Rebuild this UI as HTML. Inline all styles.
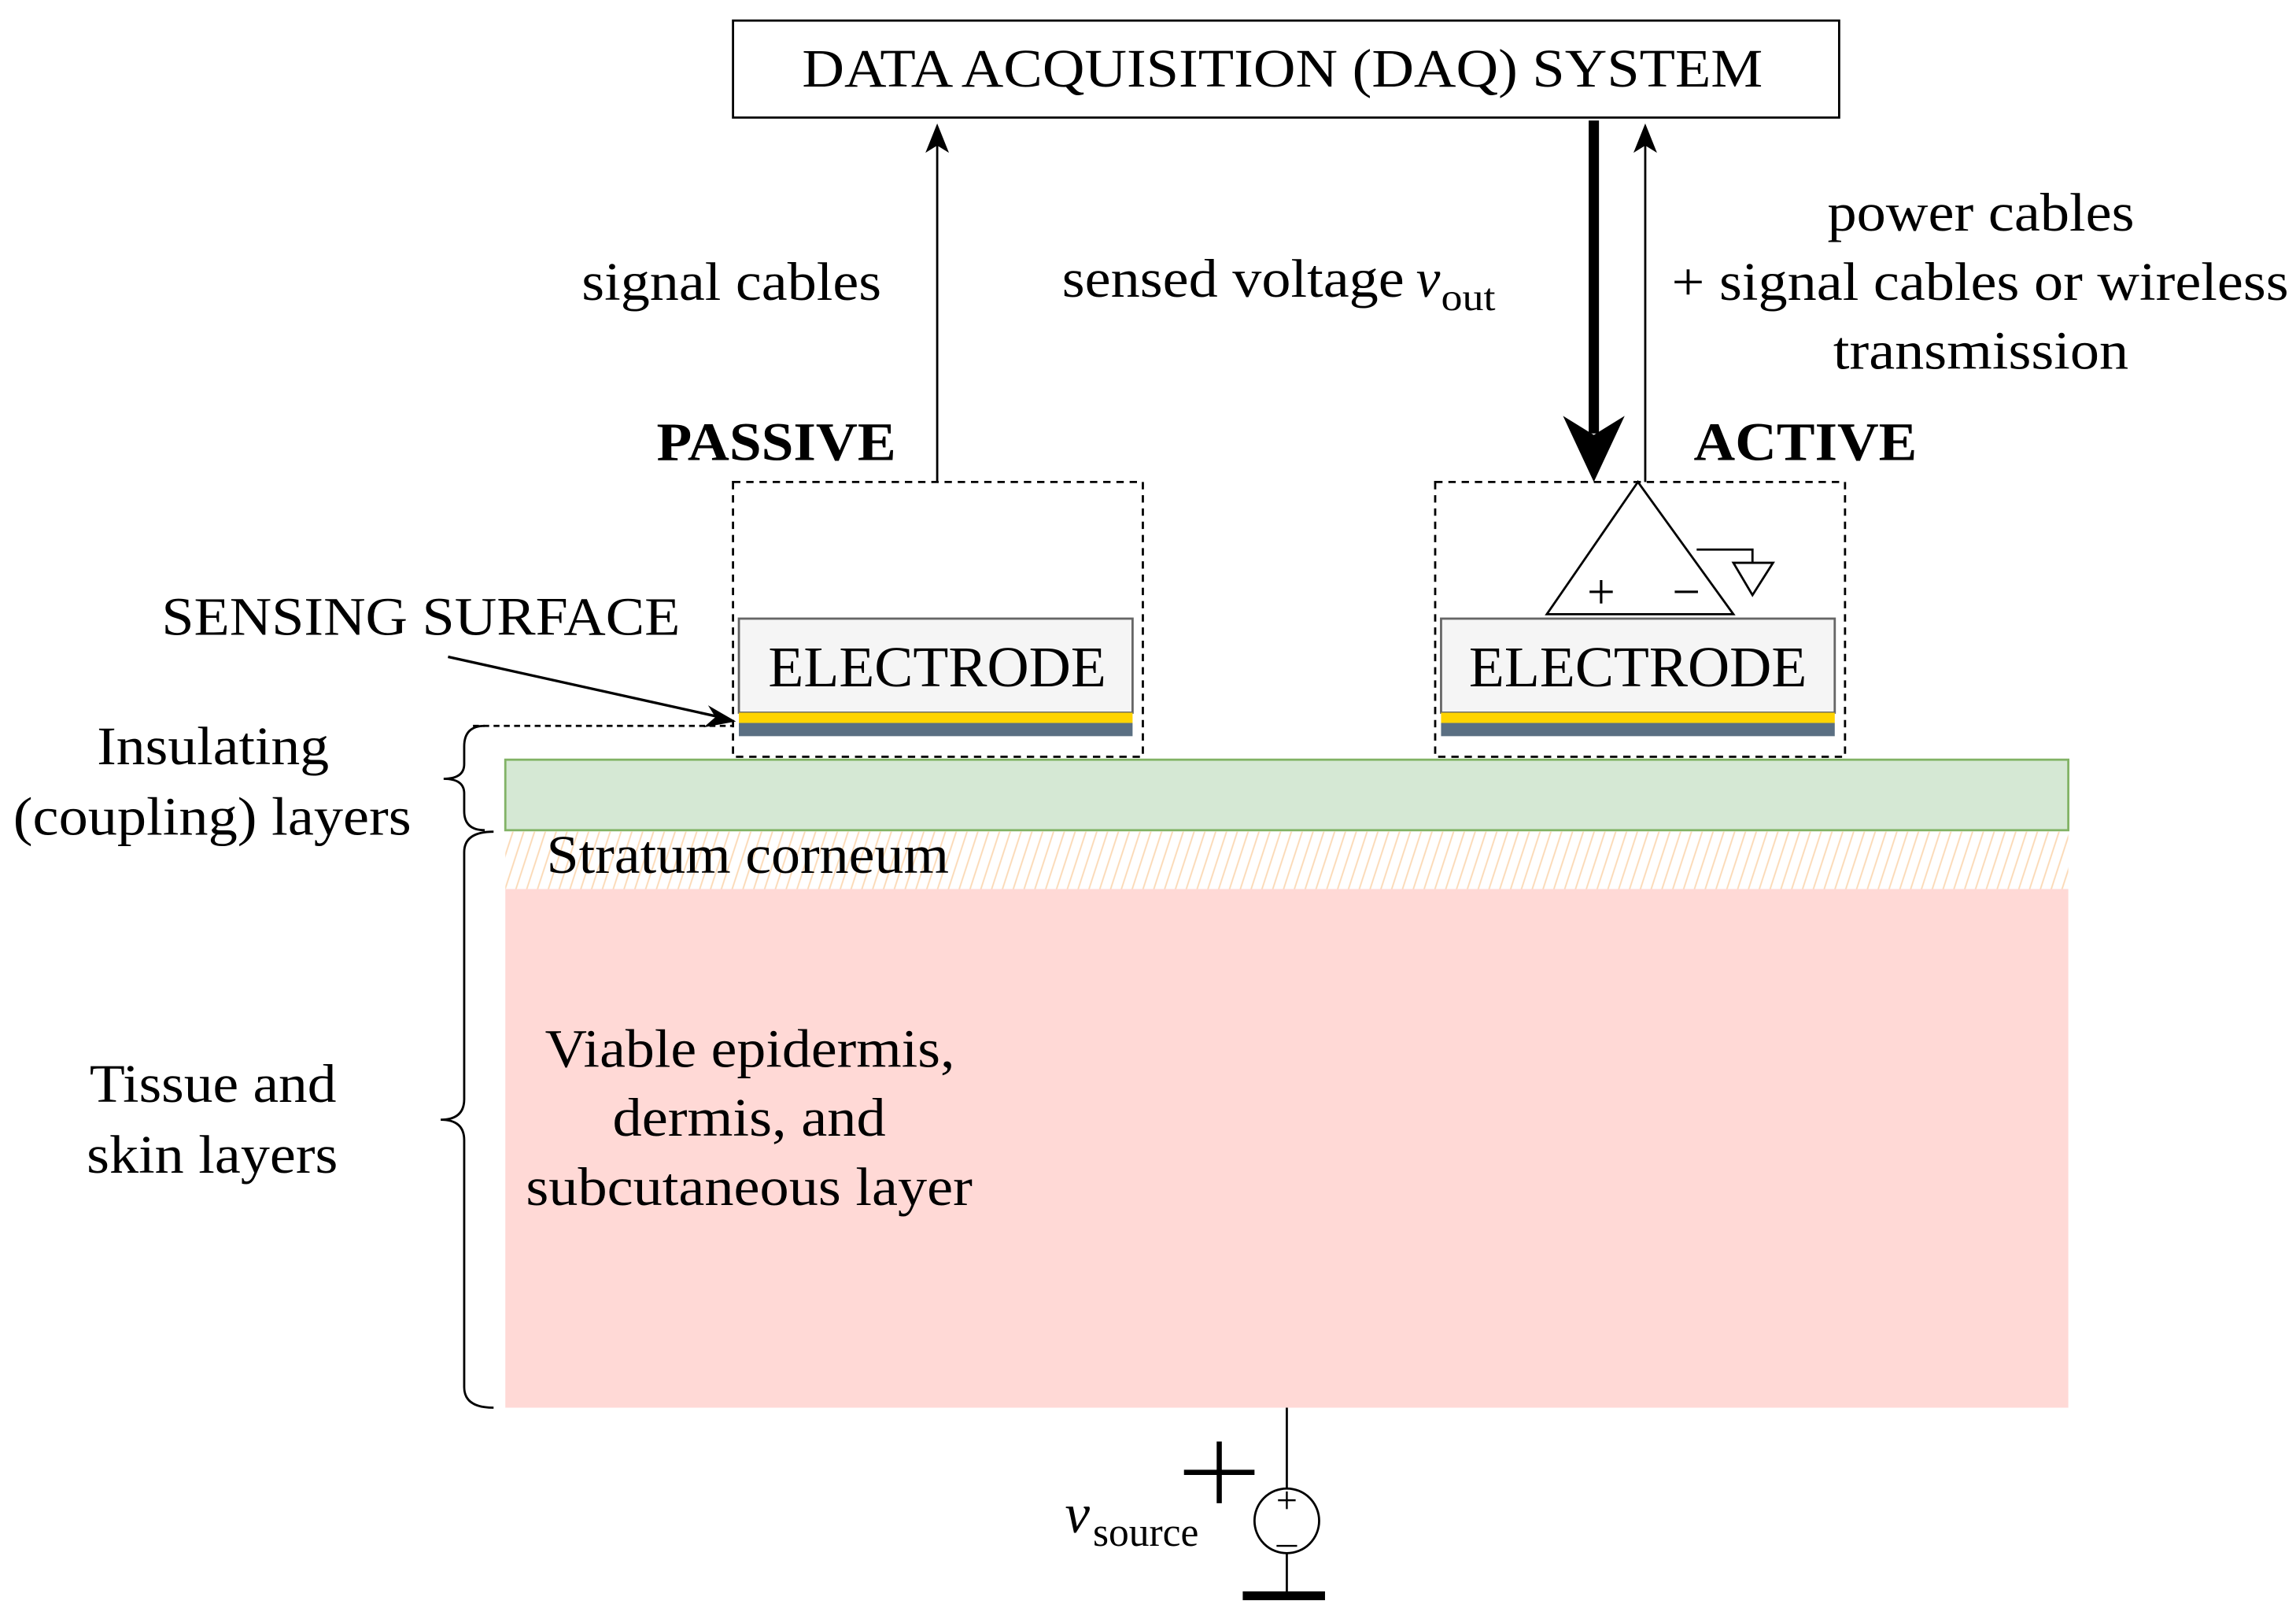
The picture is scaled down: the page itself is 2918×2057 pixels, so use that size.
<!DOCTYPE html>
<html><head><meta charset="utf-8"><style>html,body{margin:0;padding:0;background:#fff}svg{display:block}text{font-family:"Liberation Serif",serif;fill:#000}</style></head>
<body>
<svg width="2918" height="2057" viewBox="0 0 1563 1101.8" preserveAspectRatio="none" xmlns="http://www.w3.org/2000/svg">
<defs>
<pattern id="h" width="7" height="14" patternUnits="userSpaceOnUse" patternTransform="rotate(18)">
<line x1="3" y1="0" x2="3" y2="14" stroke="#fbd9b5" stroke-width="1"/>
</pattern>
</defs>
<!-- DAQ -->
<rect x="499" y="14" width="753" height="66" fill="#fff" stroke="#000" stroke-width="1.5"/>
<text x="546" y="59" font-size="37" textLength="654" lengthAdjust="spacingAndGlyphs">DATA ACQUISITION (DAQ) SYSTEM</text>
<!-- passive arrow -->
<line x1="638" y1="328" x2="638" y2="88" stroke="#000" stroke-width="1.5"/>
<path d="M638,84 L630,104 L638,99 L646,104 Z" fill="#000"/>
<text x="396" y="204" font-size="37" textLength="204" lengthAdjust="spacingAndGlyphs">signal cables</text>
<text x="723" y="202" font-size="37" textLength="233" lengthAdjust="spacingAndGlyphs">sensed voltage</text>
<text x="964" y="202" font-size="37" font-style="italic">v</text>
<text x="981" y="211" font-size="26" textLength="37" lengthAdjust="spacingAndGlyphs">out</text>
<!-- thick arrow -->
<line x1="1085" y1="82" x2="1085" y2="295" stroke="#000" stroke-width="7"/>
<path d="M1085,328 L1064,283 L1085,296 L1106,283 Z" fill="#000"/>
<line x1="1120" y1="328" x2="1120" y2="88" stroke="#000" stroke-width="1.5"/>
<path d="M1120,84 L1112,104 L1120,99 L1128,104 Z" fill="#000"/>
<text x="1244" y="157" font-size="37" textLength="209" lengthAdjust="spacingAndGlyphs">power cables</text>
<text x="1138" y="204" font-size="37" textLength="420" lengthAdjust="spacingAndGlyphs">+ signal cables or wireless</text>
<text x="1248" y="251" font-size="37" textLength="201" lengthAdjust="spacingAndGlyphs">transmission</text>
<text x="447" y="313" font-size="37" font-weight="bold" textLength="163" lengthAdjust="spacingAndGlyphs">PASSIVE</text>
<text x="1153" y="313" font-size="37" font-weight="bold" textLength="152" lengthAdjust="spacingAndGlyphs">ACTIVE</text>
<!-- dashed boxes -->
<rect x="499" y="328" width="279" height="187" fill="none" stroke="#000" stroke-width="1.5" stroke-dasharray="5,4"/>
<rect x="977" y="328" width="279" height="187" fill="none" stroke="#000" stroke-width="1.5" stroke-dasharray="5,4"/>
<!-- electrodes -->
<rect x="503" y="421" width="268" height="64" fill="#f5f5f5" stroke="#666" stroke-width="1.5"/>
<rect x="503" y="485" width="268" height="7" fill="#ffd400"/>
<rect x="503" y="492" width="268" height="9" fill="#5a6f82"/>
<text x="523" y="467" font-size="39" textLength="230" lengthAdjust="spacingAndGlyphs">ELECTRODE</text>
<rect x="981" y="421" width="268" height="64" fill="#f5f5f5" stroke="#666" stroke-width="1.5"/>
<rect x="981" y="485" width="268" height="7" fill="#ffd400"/>
<rect x="981" y="492" width="268" height="9" fill="#5a6f82"/>
<text x="1000" y="467" font-size="39" textLength="230" lengthAdjust="spacingAndGlyphs">ELECTRODE</text>
<!-- op amp -->
<path d="M1115,328 L1053,418 L1180,418 Z" fill="#fff" stroke="#000" stroke-width="1.5"/>
<text x="1090" y="414" font-size="34" text-anchor="middle">+</text>
<text x="1148" y="414" font-size="34" text-anchor="middle">−</text>
<polyline points="1155,374 1193,374 1193,383" fill="none" stroke="#000" stroke-width="1.5"/>
<path d="M1180,383 L1207,383 L1193,405 Z" fill="#fff" stroke="#000" stroke-width="1.5"/>
<!-- sensing surface -->
<text x="110" y="432" font-size="37" textLength="353" lengthAdjust="spacingAndGlyphs">SENSING SURFACE</text>
<line x1="305" y1="447" x2="490" y2="488" stroke="#000" stroke-width="1.8"/>
<path d="M501,491 L482,480 L487,488 L479,495 Z" fill="#000"/>
<line x1="322" y1="494" x2="499" y2="494" stroke="#000" stroke-width="1.5" stroke-dasharray="4,3"/>
<!-- layers -->
<rect x="344" y="517" width="1064" height="48" fill="#d5e8d4" stroke="#82b366" stroke-width="1.5"/>
<rect x="344" y="566" width="1064" height="39" fill="url(#h)"/>
<rect x="344" y="605" width="1064" height="353" fill="#ffd9d6"/>
<text x="372" y="594" font-size="37" textLength="274" lengthAdjust="spacingAndGlyphs">Stratum corneum</text>
<text x="371" y="726" font-size="37" textLength="279" lengthAdjust="spacingAndGlyphs">Viable epidermis,</text>
<text x="417" y="773" font-size="37" textLength="186" lengthAdjust="spacingAndGlyphs">dermis, and</text>
<text x="358" y="820" font-size="37" textLength="304" lengthAdjust="spacingAndGlyphs">subcutaneous layer</text>
<!-- braces -->
<path d="M330,494 Q316,494 316,508 L316,520 Q316,530 302,530 Q316,530 316,540 L316,552 Q316,565 330,565" fill="none" stroke="#000" stroke-width="1.5"/>
<path d="M336,566 Q316,566 316,580 L316,748 Q316,762 300,762 Q316,762 316,776 L316,944 Q316,958 336,958" fill="none" stroke="#000" stroke-width="1.5"/>
<text x="66" y="520" font-size="37" textLength="158" lengthAdjust="spacingAndGlyphs">Insulating</text>
<text x="9" y="568" font-size="37" textLength="271" lengthAdjust="spacingAndGlyphs">(coupling) layers</text>
<text x="61" y="750" font-size="37" textLength="168" lengthAdjust="spacingAndGlyphs">Tissue and</text>
<text x="59" y="798" font-size="37" textLength="171" lengthAdjust="spacingAndGlyphs">skin layers</text>
<!-- source -->
<line x1="876" y1="958" x2="876" y2="1013" stroke="#000" stroke-width="1.5"/>
<circle cx="876" cy="1035" r="22" fill="#fff" stroke="#000" stroke-width="1.5"/>
<line x1="876" y1="1057" x2="876" y2="1086" stroke="#000" stroke-width="1.5"/>
<rect x="846" y="1083" width="56" height="6" fill="#000"/>
<line x1="870" y1="1021" x2="882" y2="1021" stroke="#000" stroke-width="1.3"/>
<line x1="876" y1="1015" x2="876" y2="1027" stroke="#000" stroke-width="1.3"/>
<line x1="869" y1="1052" x2="883" y2="1052" stroke="#000" stroke-width="1.3"/>
<line x1="806" y1="1002" x2="854" y2="1002" stroke="#000" stroke-width="3.5"/>
<line x1="830" y1="981" x2="830" y2="1023" stroke="#000" stroke-width="3.5"/>
<text x="725" y="1043" font-size="38" font-style="italic">v</text>
<text x="744" y="1052" font-size="28" textLength="72" lengthAdjust="spacingAndGlyphs">source</text>
</svg>
</body></html>
